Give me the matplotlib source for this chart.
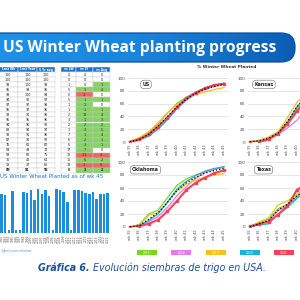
"""
US winter wheat planting progress - dashboard recreation.
Table, bar history and four state progress panels on one 300x300 canvas.
"""

import numpy as np
import matplotlib
matplotlib.use("Agg")
import matplotlib.pyplot as plt
from matplotlib.patches import FancyBboxPatch, Rectangle
from matplotlib.colors import LinearSegmentedColormap

# ── Table data ─────────────────────────────────────────────────────────────
TABLE_COLS = ["Last Wk", "Last Year", "5 Yr avg"]
DIFF_COLS = ["vs LW", "vs LY", "vs Avg"]
last_wk   = [100, 100, 99, 95, 99, 94, 97, 95, 93, 95, 94, 88, 93, 87, 76, 59, 59, 36, 33, 89]
last_year = [100, 100, 100, 99, 100, 92, 97, 97, 91, 95, 90, 94, 91, 91, 81, 49, 82, 42, 37, 91]
avg5      = [100, 100, 99, 96, 99, 97, 98, 96, 96, 96, 92, 97, 96, 92, 87, 74, 75, 64, 66, 95]
vs_lw     = [0, 0, 1, 5, 0, 5, 1, 1, 2, 3, 2, 3, 7, 6, 6, 17, 12, 15, 13, 6]
vs_ly     = [0, 0, 0, 1, -1, 1, 1, 1, 11, 1, 2, 3, 1, 2, 3, 7, -11, 6, -1, 2]
vs_avg    = [0, 0, 1, 4, 0, 1, 0, 1, 4, 3, 2, 5, 4, 1, 1, 0, -3, 2, -6, 2]

# ── Bar history (planted as of wk 45) ──────────────────────────────────────
bar_years = [str(y) for y in range(1992, 2022)]
bar_values = [89.3, 88.8, 62, 91.3, 62, 62, 91, 90, 92, 85, 93, 89.3, 92, 88, 62,
              93, 92, 90.5, 83.3, 62, 92.5, 92, 91.5, 90, 89.5, 91, 85.5, 89.3, 89.5, 90]

# ── Progress curves (% planted by week) ────────────────────────────────────
WEEKS = ["wk 35", "wk 36", "wk 37", "wk 38", "wk 39", "wk 40",
         "wk 41", "wk 42", "wk 43", "wk 44", "wk 45"]
YEARS = ["2017", "2018", "2019", "2020", "2021"]

us = {
    "2017": [1, 6, 14, 28, 45, 60, 70, 78, 84, 88, 91],
    "2018": [0, 3, 10, 22, 37, 52, 65, 75, 82, 87, 90],
    "2019": [1, 7, 16, 30, 46, 58, 68, 74, 78, 82, 85],
    "2020": [0, 3, 9, 20, 35, 52, 66, 77, 85, 89, 92],
    "2021": [0, 4, 12, 24, 38, 54, 68, 77, 84, 89, 91],
}
us_avg = [0, 4, 12, 25, 40, 55, 67, 76, 83, 87, 90]

kansas = {
    "2017": [0, 2, 7, 15, 32, 52, 68],
    "2018": [0, 1, 5, 12, 22, 34, 50],
    "2019": [1, 3, 8, 16, 38, 62, 75],
    "2020": [0, 1, 5, 13, 30, 55, 72],
    "2021": [0, 0, 4, 13, 28, 48, 65],
}
kansas_avg = [0, 2, 6, 14, 32, 55, 70]

oklahoma = {
    "2017": [0, 4, 20, 26, 45, 64, 74, 80, 85, 89, 92],
    "2018": [0, 1, 8, 16, 30, 48, 62, 75, 84, 89, 92],
    "2019": [0, 3, 18, 22, 38, 55, 66, 72, 77, 80, 82],
    "2020": [0, 2, 10, 20, 38, 58, 70, 79, 86, 90, 93],
    "2021": [0, 1, 5, 11, 24, 40, 57, 68, 76, 83, 87],
}
oklahoma_avg = [0, 2, 12, 22, 38, 56, 68, 76, 83, 87, 90]

texas = {
    "2017": [1, 6, 12, 28, 35, 47, 58],
    "2018": [0, 4, 10, 25, 33, 45, 56],
    "2019": [0, 8, 14, 34, 40, 50, 60],
    "2020": [0, 3, 5, 20, 30, 44, 55],
    "2021": [1, 5, 8, 19, 32, 57, 66],
}
texas_avg = [0, 5, 10, 26, 35, 48, 58]

# ── Styles ─────────────────────────────────────────────────────────────────
YEAR_COLORS = {"2017": "#7fd324", "2018": "#e07ee6", "2019": "#f0c21a",
               "2020": "#1ab3d6", "2021": "#f0435a"}
HEAD_BLUE = "#1f72c9"
BAR_BLUE = "#1b8ee0"
CAP_BLUE = "#1b4f9e"
GREEN_CELL = "#86d262"
RED_CELL = "#f06464"

W = H = 300
fig = plt.figure(figsize=(3, 3), dpi=100)
fig.patch.set_facecolor("white")


def px_axes(x0, y0, x1, y1):
    """Axes from a pixel box measured from the top-left corner."""
    ax = fig.add_axes([x0 / W, 1 - y1 / H, (x1 - x0) / W, (y1 - y0) / H])
    ax.set_facecolor("none")
    return ax


def fit_width(txt, width_px):
    r = fig.canvas.get_renderer()
    w = txt.get_window_extent(renderer=r).width
    txt.set_fontsize(txt.get_fontsize() * width_px / w)


# ── Background layer in pixel units ────────────────────────────────────────
bg = px_axes(0, 0, W, H)
bg.set_xlim(0, W)
bg.set_ylim(H, 0)
bg.axis("off")

# title banner with gradient
banner = FancyBboxPatch((-30, 33), 325, 29, boxstyle="round,pad=0,rounding_size=14",
                        fc="none", ec="#0b4f9c", lw=0.9, zorder=3)
bg.add_patch(banner)
grad = np.linspace(0, 1, 256).reshape(1, -1)
cmap = LinearSegmentedColormap.from_list("banner", ["#1f93ea", "#1a86de", "#0c5db4"])
im = bg.imshow(grad, extent=(-30, 295, 62, 33), cmap=cmap, aspect="auto", zorder=2)
im.set_clip_path(banner)
bg.set_xlim(0, W)
bg.set_ylim(H, 0)
title = bg.text(3, 47.5, "US Winter Wheat planting progress", color="white",
                fontsize=11, fontweight="bold", family="Open Sans",
                ha="left", va="center", zorder=4)
fit_width(title, 274)

# ── Table ──────────────────────────────────────────────────────────────────
head_top, head_h = 67.0, 5.0
row_top, row_h = 72.0, 5.05
left_edges = [-2, 18, 37, 55]
right_edges = [61, 76, 93, 110]


def draw_table(edges, headers, columns, colored):
    for c, name in enumerate(headers):
        x0, x1 = edges[c], edges[c + 1]
        bg.add_patch(Rectangle((x0, head_top), x1 - x0, head_h, fc=HEAD_BLUE,
                               ec="white", lw=0.3, zorder=2))
        bg.text((max(x0, 0) + x1) / 2, head_top + head_h / 2, name, color="white",
                fontsize=2.2, fontweight="bold", ha="center", va="center", zorder=3)
        for r, v in enumerate(columns[c]):
            fc = "white"
            if colored[c] and v > 0:
                fc = GREEN_CELL
            elif colored[c] and v < 0:
                fc = RED_CELL
            y0 = row_top + r * row_h
            bg.add_patch(Rectangle((x0, y0), x1 - x0, row_h, fc=fc,
                                   ec="#c9c9c9", lw=0.3, zorder=2))
            bg.text((x0 + x1) / 2, y0 + row_h / 2, str(v), color="#222222",
                    fontsize=2.4, ha="center", va="center", zorder=3,
                    fontweight="bold" if r == len(columns[c]) - 1 else "normal")


draw_table(left_edges, TABLE_COLS, [last_wk, last_year, avg5], [False, False, False])
draw_table(right_edges, DIFF_COLS, [vs_lw, vs_ly, vs_avg], [False, True, True])

# ── Bar history ────────────────────────────────────────────────────────────
bt = bg.text(0.5, 176.5, "US Winter Wheat Planted as of wk 45", color="#1a6fc4",
             fontsize=3.6, ha="left", va="center")
fit_width(bt, 104)
axb = px_axes(0, 186.3, 110, 233)
xb = np.arange(len(bar_values))
axb.bar(xb, np.array(bar_values) - 60, bottom=60, width=0.68, color=BAR_BLUE)
pitch = (107.6 - 1.6) / 29.0
axb.set_xlim(-1.6 / pitch, -1.6 / pitch + 110 / pitch)
axb.set_ylim(60, 95)
axb.set_xticks(xb)
axb.set_xticklabels(bar_years, rotation=90, fontsize=2.1, color="#555555")
axb.tick_params(axis="x", length=0, pad=1.5)
axb.set_yticks([])
for s in axb.spines.values():
    s.set_visible(False)
bg.text(0.5, 251, "@benjaminlevkat", color="#5b9bd8", fontsize=2.6,
        ha="left", va="center")

# ── Progress panels ────────────────────────────────────────────────────────
pt = bg.text(227, 66.5, "% Winter Wheat Planted", color="#333333", fontsize=4,
             fontweight="bold", ha="center", va="center")
fit_width(pt, 59)


def panel(box, name, series, avg, label_pos, n_ticks):
    ax = px_axes(*box)
    for yr in YEARS:
        vals = series[yr]
        x = np.arange(len(vals))
        if yr == "2021":
            ax.plot(x, vals, color=YEAR_COLORS[yr], lw=1.5, marker="s", ms=2,
                    zorder=4)
        else:
            ax.plot(x, vals, color=YEAR_COLORS[yr], lw=0.9, zorder=3)
    ax.plot(np.arange(len(avg)), avg, color="black", lw=0.9, ls=":", zorder=5)
    ax.set_xlim(-0.2, 10.44)
    ax.set_ylim(0, 100)
    ax.set_yticks(range(0, 101, 20))
    # only the weeks that fall inside the canvas get a label
    ax.set_xticks(range(n_ticks))
    ax.set_xticklabels(WEEKS[:n_ticks], rotation=90)
    ax.tick_params(axis="y", length=0, pad=2.2, labelsize=3, labelcolor="#444444")
    ax.tick_params(axis="x", length=0, pad=1.8, labelsize=2.5, labelcolor="#444444")
    ax.yaxis.grid(True, color="#dcdcdc", lw=0.5)
    ax.set_axisbelow(True)
    for s in ax.spines.values():
        s.set_visible(False)
    ax.text(label_pos[0], label_pos[1], name, transform=ax.transAxes,
            fontsize=3.4, fontweight="bold", color="#222222", ha="center",
            va="center", zorder=6,
            bbox=dict(boxstyle="round,pad=0.35,rounding_size=0.6", fc="white",
                      ec="#888888", lw=0.5))
    return ax


panel((128, 78, 228, 142), "US", us, us_avg, (0.18, 0.9), 11)
panel((248, 78, 348, 142), "Kansas", kansas, kansas_avg, (0.16, 0.9), 6)
panel((128, 162, 228, 227), "Oklahoma", oklahoma, oklahoma_avg, (0.175, 0.88), 11)
panel((248, 162, 348, 227), "Texas", texas, texas_avg, (0.155, 0.88), 6)

# legend chips
for i, yr in enumerate(YEARS):
    cx = 147 + i * 34.25
    bg.add_patch(Rectangle((cx - 10, 250), 20, 5, fc=YEAR_COLORS[yr], ec="none",
                           zorder=2))
    bg.text(cx, 252.5, yr, color="white", fontsize=2.2, ha="center",
            va="center", zorder=3)

# ── Caption ────────────────────────────────────────────────────────────────
cap1 = bg.text(38, 268, "Gráfica 6.", color=CAP_BLUE, fontsize=6,
               fontweight="bold", style="italic", ha="left", va="center")
cap2 = bg.text(38, 268, " Evolución siembras de trigo en USA.", color=CAP_BLUE,
               fontsize=6, style="italic", ha="left", va="center")
r = fig.canvas.get_renderer()
total = cap1.get_window_extent(r).width + cap2.get_window_extent(r).width
scale = 230 / total
cap1.set_fontsize(6 * scale)
cap2.set_fontsize(6 * scale)
cap2.set_x(38 + cap1.get_window_extent(r).width)

fig.savefig("out.png", dpi=100)
